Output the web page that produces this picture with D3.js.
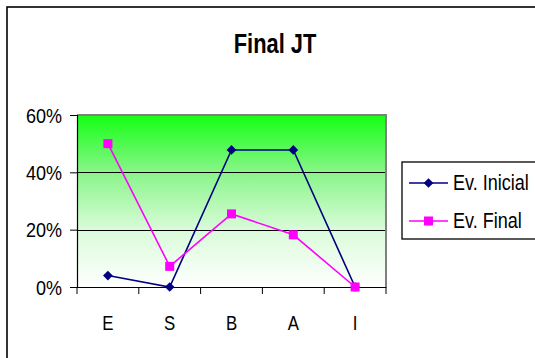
<!DOCTYPE html>
<html>
<head>
<meta charset="utf-8">
<script src="https://cdn.jsdelivr.net/npm/d3@7"></script>
<style>
  html, body { margin: 0; padding: 0; background: #fff; }
  svg { display: block; font-family: "Liberation Sans", Arial, sans-serif; }
</style>
</head>
<body>
<svg id="chart" width="535" height="358"></svg>
<script>
const categories = ["E", "S", "B", "A", "I"];
const evInicial = [0.04, 0.0, 0.478, 0.478, 0.0];
const evFinal = [0.50, 0.072, 0.255, 0.182, 0.0];
const yTicks = [0, 0.2, 0.4, 0.6];
const seriesNames = ["Ev. Inicial", "Ev. Final"];
const seriesColors = ["#000080", "#ff00ff"];
const titleText = "Final JT";

const svg = d3.select("#chart");

// horizontally condense text like the reference rendering
function condense(sel, sx) {
  sel.each(function () {
    const w = this.getComputedTextLength();
    d3.select(this).attr("textLength", w * sx).attr("lengthAdjust", "spacingAndGlyphs");
  });
}

// outer frame
svg.append("rect").attr("x", 7).attr("y", 7).attr("width", 700).attr("height", 700)
  .attr("fill", "#fff").attr("stroke", "#000").attr("stroke-width", 1.6);

// title
svg.append("text").attr("x", 275).attr("y", 53).attr("text-anchor", "middle")
  .attr("font-weight", "bold").attr("font-size", 28).text(titleText)
  .call(condense, 0.78);

const plot = { left: 77, right: 386, top: 115, bottom: 287 };

const x = d3.scaleBand().domain(categories).range([plot.left, plot.right]).padding(0);
const y = d3.scaleLinear().domain([0, 0.6]).range([plot.bottom, plot.top]);

// gradient background
const defs = svg.append("defs");
const grad = defs.append("linearGradient").attr("id", "bg").attr("x1", 0).attr("y1", 0).attr("x2", 0).attr("y2", 1);
grad.append("stop").attr("offset", "0%").attr("stop-color", "#14ff14");
grad.append("stop").attr("offset", "33%").attr("stop-color", "#88f588");
grad.append("stop").attr("offset", "66%").attr("stop-color", "#d8fbd8");
grad.append("stop").attr("offset", "100%").attr("stop-color", "#ffffff");

svg.append("rect").attr("x", plot.left).attr("y", plot.top)
  .attr("width", plot.right - plot.left).attr("height", plot.bottom - plot.top)
  .attr("fill", "url(#bg)");

// gridlines
svg.append("g").selectAll("line").data(yTicks.filter(d => d > 0 && d < 0.6)).join("line")
  .attr("x1", plot.left).attr("x2", plot.right)
  .attr("y1", d => Math.round(y(d)) + 0.5).attr("y2", d => Math.round(y(d)) + 0.5)
  .attr("stroke", "#000").attr("stroke-width", 1);

// plot area border top & right (gray)
svg.append("path")
  .attr("d", `M${plot.left},${y(0.6)}H${plot.right}V${plot.bottom}`)
  .attr("fill", "none").attr("stroke", "#808080").attr("stroke-width", 2);

// y axis
const yAxis = d3.axisLeft(y).tickValues(yTicks).tickFormat(d3.format(".0%")).tickSize(7).tickPadding(8);
const gy = svg.append("g").attr("transform", `translate(${plot.left},0)`).call(yAxis);
gy.select(".domain").attr("stroke", "#000").attr("stroke-width", 1.2);
gy.selectAll(".tick line").attr("stroke", "#000");
gy.selectAll(".tick text").attr("font-size", 20).attr("fill", "#000")
  .attr("font-family", "Liberation Sans, Arial, sans-serif")
  .attr("dy", "0.36em").call(condense, 0.9);

// x axis
const xAxis = d3.axisBottom(x).tickSize(0).tickPadding(0);
const gx = svg.append("g").attr("transform", `translate(0,${plot.bottom})`).call(xAxis);
gx.select(".domain").attr("stroke", "#000").attr("stroke-width", 1.2);
gx.selectAll(".tick text").attr("font-size", 21).attr("fill", "#000")
  .attr("font-family", "Liberation Sans, Arial, sans-serif")
  .attr("y", 43).attr("dy", 0).call(condense, 0.8);
// boundary tick marks between categories
const bounds = categories.map(c => x(c)).concat([x(categories[categories.length - 1]) + x.bandwidth()]);
gx.selectAll("line.bt").data(bounds).join("line").attr("class", "bt")
  .attr("x1", d => d).attr("x2", d => d).attr("y1", 0).attr("y2", 7)
  .attr("stroke", "#000").attr("stroke-width", 1);

// series
const cx = c => x(c) + x.bandwidth() / 2;
const series = [evInicial, evFinal];
const line = d3.line().x((d, i) => cx(categories[i])).y(d => y(d));

series.forEach((vals, si) => {
  svg.append("path").datum(vals).attr("d", line)
    .attr("fill", "none").attr("stroke", seriesColors[si]).attr("stroke-width", 1.6);
});

// markers
const diamond = d3.symbol().type(d3.symbolDiamond2).size(60);
svg.append("g").selectAll("path").data(evInicial).join("path")
  .attr("transform", (d, i) => `translate(${cx(categories[i])},${y(d)})`)
  .attr("d", diamond).attr("fill", seriesColors[0]);
svg.append("g").selectAll("rect").data(evFinal).join("rect")
  .attr("x", (d, i) => cx(categories[i]) - 4.5).attr("y", d => y(d) - 4.5)
  .attr("width", 9).attr("height", 9).attr("fill", seriesColors[1]);

// legend
const lg = svg.append("g");
lg.append("rect").attr("x", 402).attr("y", 162).attr("width", 200).attr("height", 77)
  .attr("fill", "#fff").attr("stroke", "#000").attr("stroke-width", 1.3);
const legendY = [183, 221];
seriesNames.forEach((name, i) => {
  const yy = legendY[i];
  lg.append("line").attr("x1", 409).attr("x2", 448).attr("y1", yy).attr("y2", yy)
    .attr("stroke", seriesColors[i]).attr("stroke-width", 1.6);
  if (i === 0) {
    lg.append("path").attr("transform", `translate(428.5,${yy})`).attr("d", diamond).attr("fill", seriesColors[0]);
  } else {
    lg.append("rect").attr("x", 428.5 - 4.5).attr("y", yy - 4.5).attr("width", 9).attr("height", 9).attr("fill", seriesColors[1]);
  }
  lg.append("text").attr("x", 453).attr("y", yy + 7).attr("font-size", 22).attr("fill", "#000")
    .text(name).call(condense, 0.82);
});
</script>
</body>
</html>
